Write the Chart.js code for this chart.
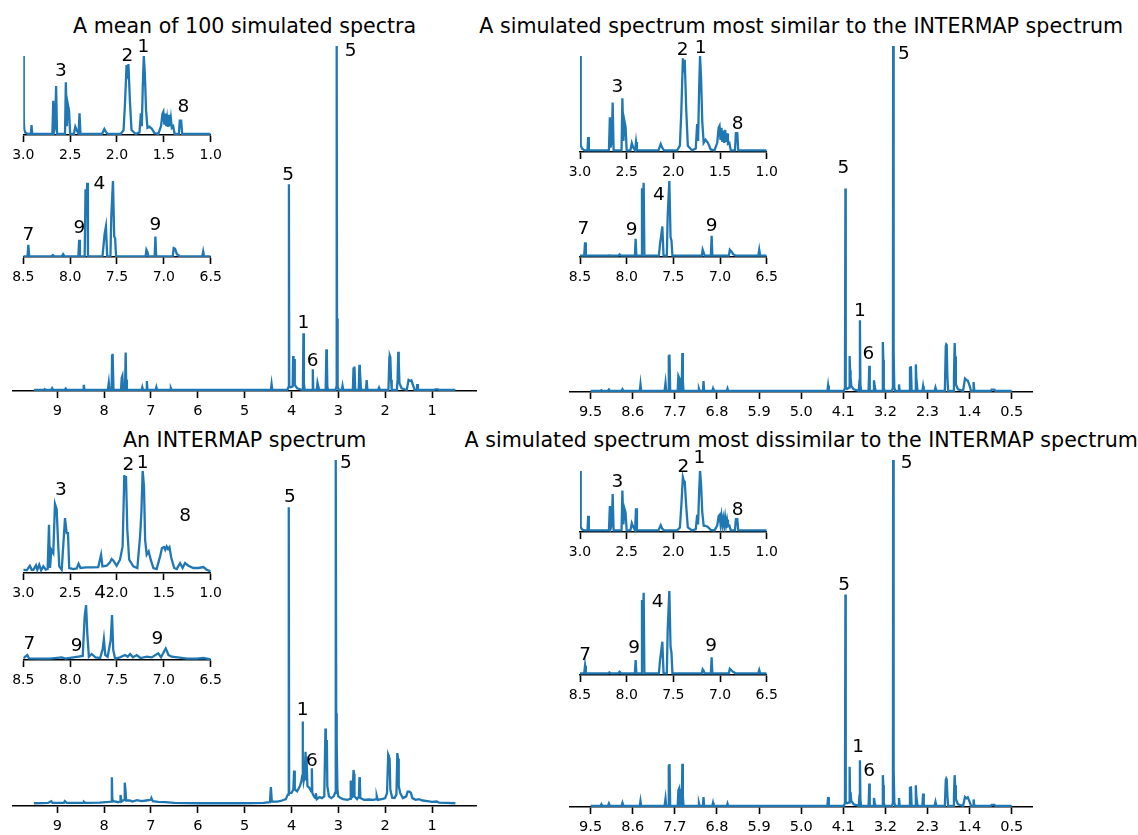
<!DOCTYPE html>
<html>
<head>
<meta charset="utf-8">
<script src="https://cdn.jsdelivr.net/npm/chart.js@4"></script>
<style>
  body { margin: 0; background: #fff; width: 1138px; height: 835px; position: relative; overflow: hidden; font-family: 'DejaVu Sans', sans-serif; }
  .title { position: absolute; font-size: 20.6px; line-height: 1; white-space: nowrap; transform: translateX(-50%); color: #000; }
  canvas { position: absolute; }
</style>
</head>
<body>
<script>
// ---- tick labels ----
const integerTicks = [9, 8, 7, 6, 5, 4, 3, 2, 1];
const ninthTicks = [9.5, 8.6, 7.7, 6.8, 5.9, 5.0, 4.1, 3.2, 2.3, 1.4, 0.5];
const aliphaticTicks = [3.0, 2.5, 2.0, 1.5, 1.0];
const aromaticTicks = [8.5, 8.0, 7.5, 7.0, 6.5];

const titles = [
  'A mean of 100 simulated spectra',
  'A simulated spectrum most similar to the INTERMAP spectrum',
  'An INTERMAP spectrum',
  'A simulated spectrum most dissimilar to the INTERMAP spectrum'
];

// ---- simulated spectra, full range (ppm, intensity relative to tallest peak) ----
const simMainPpm = [
  9.50, 9.29, 9.27, 9.25, 9.13, 9.11, 9.09, 8.84, 8.82, 8.80,
  8.45, 8.435, 8.42, 7.92, 7.90, 7.885, 7.84, 7.83, 7.822, 7.815,
  7.80, 7.64, 7.625, 7.61, 7.595, 7.555, 7.54, 7.53, 7.515, 7.20,
  7.185, 7.17, 7.10, 7.088, 7.075, 6.90, 6.885, 6.87, 6.59, 6.575,
  6.56, 4.44, 4.425, 4.41, 4.09, 4.065, 4.055, 4.048, 4.02, 3.975,
  3.965, 3.955, 3.945, 3.93, 3.88, 3.77, 3.755, 3.745, 3.735, 3.72,
  3.56, 3.545, 3.535, 3.46, 3.445, 3.43, 3.41, 3.27, 3.255, 3.245,
  3.235, 3.22, 3.06, 3.04, 3.035, 3.028, 3.02, 3.01, 2.99, 2.925,
  2.91, 2.895, 2.69, 2.675, 2.665, 2.655, 2.64, 2.565, 2.55, 2.54,
  2.53, 2.515, 2.41, 2.395, 2.38, 2.15, 2.13, 2.11, 1.93, 1.91,
  1.90, 1.89, 1.875, 1.86, 1.75, 1.735, 1.72, 1.71, 1.695, 1.65,
  1.54, 1.50, 1.47, 1.44, 1.40, 1.37, 1.325, 1.315, 1.30, 0.95,
  0.93, 0.87, 0.85, 0.50
];
const meanMainInt = [
  0, 0, 0.2, 0, 0, 0.5, 0, 0, 0.4, 0,
  0, 1.5, 0, 0, 2.1, 0, 0, 10.2, 8, 10.5,
  0, 0, 3.5, 4.1, 0, 0, 10.9, 3, 0, 0,
  0.8, 0, 0, 2.6, 0, 0, 0.8, 0, 0, 0.5,
  0, 0, 1.7, 0, 0, 0.8, 59.8, 1, 0.8, 1,
  9.9, 3, 9, 1.5, 0.5, 0, 3, 16.5, 2, 0,
  0, 6.0, 0, 0, 2.1, 1.2, 0, 0, 11.8, 10.7,
  1, 0, 0, 1, 100, 20.8, 11.6, 1, 0, 0,
  1.2, 0, 0, 6.5, 2, 6.8, 0, 0, 7.3, 3,
  3.5, 0, 0, 2.9, 0, 0, 0.7, 0, 0, 9.5,
  9.9, 9.5, 3, 0, 0, 3, 11.1, 8.2, 2, 0.5,
  0, 2.9, 2.6, 2.8, 1.2, 0, 0, 1.7, 0, 0,
  0.2, 0.2, 0, 0
];
const similarMainInt = [
  0, 0, 0.2, 0, 0, 0.4, 0, 0, 0.5, 0,
  0, 1.9, 0, 0, 2.3, 0, 0, 10.3, 9, 10.6,
  0, 0, 4.3, 3.8, 0, 0, 11.0, 3, 0, 0,
  0.6, 0, 0, 2.9, 0, 0, 0.7, 0, 0, 0.7,
  0, 0, 1.6, 0, 0, 0.8, 58.7, 1, 0.6, 1,
  10.1, 6, 4, 1.5, 0.5, 0, 3, 20.5, 2, 0,
  0, 7.3, 0, 0, 3.1, 1.5, 0, 0, 14.2, 9,
  1, 0, 0, 1, 100, 23.9, 10.8, 1, 0, 0,
  1.9, 0, 0, 7.0, 2, 7.2, 0, 0, 7.7, 4,
  4, 0, 0, 1.4, 0, 0, 1.0, 0, 0, 13,
  13.5, 13.3, 4, 0, 0, 4, 13.9, 10, 2, 0.5,
  0, 3.6, 3.2, 3.0, 1.5, 0, 0, 2.6, 0, 0,
  0.4, 0.4, 0, 0
];
const dissimilarMainInt = [
  0, 0, 0.5, 0, 0, 0.7, 0, 0, 0.9, 0,
  0, 1.4, 0, 0, 2.1, 0, 0, 11.8, 10, 12.1,
  0, 0, 4.5, 5.0, 0, 0, 12.2, 3, 0, 0,
  0.8, 0, 0, 2.6, 0, 0, 0.9, 0, 0, 0.7,
  0, 0, 2.6, 0, 0, 0.8, 61.1, 1, 0.8, 1,
  11.3, 3, 4, 1.5, 0.5, 0, 3, 13.2, 2, 0,
  0, 6.5, 0, 0, 2.3, 1, 0, 0, 8.9, 6,
  1, 0, 0, 1, 100, 17.3, 10.8, 1, 0, 0,
  2.3, 0, 0, 5.5, 2, 5.7, 0, 0, 6.0, 3,
  3, 0, 0, 3.6, 0, 0, 1.2, 0, 0, 7.5,
  7.9, 7.6, 3, 0, 0, 3, 8.9, 6, 2, 0.5,
  0, 2.6, 2.2, 2.5, 1.2, 0, 0, 1.9, 0, 0,
  0.3, 0.3, 0, 0
];

// ---- simulated spectra, 3.0-1.0 ppm inset ----
const simAliPpm = [
  3.00, 2.995, 2.99, 2.98, 2.95, 2.92, 2.912, 2.905, 2.69, 2.68,
  2.672, 2.66, 2.65, 2.64, 2.555, 2.546, 2.535, 2.525, 2.512, 2.50,
  2.46, 2.445, 2.43, 2.41, 2.40, 2.39, 2.16, 2.135, 2.12, 2.10,
  1.96, 1.93, 1.915, 1.898, 1.888, 1.878, 1.862, 1.845, 1.80, 1.76,
  1.745, 1.735, 1.725, 1.714, 1.703, 1.69, 1.675, 1.655, 1.63, 1.60,
  1.56, 1.53, 1.515, 1.505, 1.495, 1.485, 1.475, 1.465, 1.455, 1.445,
  1.435, 1.425, 1.415, 1.40, 1.385, 1.34, 1.33, 1.315, 1.305, 1.00
];
const meanAliInt = [
  100, 20, 6, 2, 0, 0, 11.5, 0, 0, 42.7,
  3, 10, 61.5, 0, 0, 66.2, 10, 38.5, 30, 0,
  0, 9.4, 5, 0, 26.5, 0, 0, 6.4, 3, 0,
  0, 5, 38.5, 88.5, 80, 89.7, 41.5, 5, 0, 2,
  26.5, 10, 60.7, 100, 77.8, 30.8, 8, 9.4, 7, 1,
  0, 10, 26, 28.6, 12, 26, 10, 20, 9, 24.4,
  10, 20, 8, 10, 0, 0, 17.1, 17.1, 0, 0
];
const similarAliInt = [
  100, 20, 6, 2, 0, 0, 14.1, 0, 0, 35.2,
  3, 10, 50.7, 0, 0, 55.3, 10, 31.7, 25, 0,
  0, 7.7, 3, 0, 8.8, 0, 0, 6.7, 3, 0,
  0, 5, 40, 97.5, 90, 96, 43, 5, 0, 2,
  28, 10, 60, 100, 76.4, 30, 8, 11.3, 8, 1,
  0, 8, 24, 26, 11, 24, 9, 21, 8, 21.8,
  9, 18, 7, 8, 0, 0, 18.3, 18.3, 0, 0
];
const dissimilarAliInt = [
  100, 20, 6, 2, 0, 0, 24.4, 0, 0, 41,
  3, 10, 61, 0, 0, 66.7, 10, 37.2, 30, 0,
  0, 12.2, 6, 0, 37.2, 0, 0, 8.9, 3, 0,
  0, 5, 40, 88.9, 83, 81.7, 40, 5, 0, 2,
  26, 10, 60, 100, 76, 30, 8, 7.8, 6, 1,
  0, 8, 24, 26, 11, 24, 9, 20, 8, 22,
  9, 18, 7, 8, 0, 0, 18.9, 18.9, 0, 0
];

// ---- simulated spectra, 8.5-6.5 ppm inset ----
const simAroPpm = [
  8.50, 8.455, 8.446, 8.437, 8.20, 8.185, 8.17, 8.09, 8.075, 8.06,
  7.912, 7.904, 7.896, 7.845, 7.836, 7.827, 7.818, 7.81, 7.655, 7.643,
  7.632, 7.618, 7.605, 7.57, 7.561, 7.543, 7.53, 7.52, 7.51, 7.195,
  7.186, 7.175, 7.165, 7.098, 7.09, 7.082, 6.905, 6.895, 6.88, 6.86,
  6.845, 6.835, 6.59, 6.58, 6.57, 6.50
];
const meanAroInt = [
  0, 0, 15.4, 0, 0, 1.8, 0, 0, 3, 0,
  0, 21.9, 0, 0, 88.6, 60, 97.4, 0, 0, 15.4,
  30, 39.5, 0, 0, 52.6, 100, 26.3, 24, 0, 0,
  8.8, 6, 0, 0, 26.3, 0, 0, 11, 10, 2.6,
  2, 0, 0, 6.6, 0, 0
];
const similarAroInt = [
  0, 0, 17.7, 0, 0, 0.5, 0, 0, 1.8, 0,
  0, 22.6, 0, 0, 89.8, 60, 97.3, 0, 0, 15.5,
  25, 39, 0, 0, 52.2, 100, 24.8, 20, 0, 0,
  8, 4, 0, 0, 26.5, 0, 0, 8, 6, 2,
  1, 0, 0, 8, 0, 0
];
const dissimilarAroInt = [
  0, 0, 9.3, 0, 0, 1.2, 0, 0, 2, 0,
  0, 16.1, 0, 0, 88.7, 60, 97.6, 0, 0, 15.3,
  25, 38.3, 0, 0, 51.2, 100, 32, 25, 0, 0,
  4.8, 3, 0, 0, 19.4, 0, 0, 5.6, 4, 1.5,
  1, 0, 0, 4, 0, 0
];

// ---- INTERMAP spectrum ----
const intermapMainPpm = [
  9.50, 9.20, 9.13, 9.10, 8.86, 8.84, 8.80, 8.45, 8.43, 8.40,
  8.10, 7.90, 7.85, 7.835, 7.825, 7.80, 7.70, 7.66, 7.65, 7.63,
  7.57, 7.56, 7.545, 7.53, 7.45, 7.40, 7.30, 7.20, 7.10, 7.00,
  6.99, 6.96, 6.85, 6.70, 6.50, 6.00, 5.00, 4.60, 4.46, 4.44,
  4.42, 4.30, 4.20, 4.12, 4.08, 4.065, 4.058, 4.05, 4.00, 3.96,
  3.945, 3.93, 3.88, 3.82, 3.79, 3.77, 3.762, 3.755, 3.74, 3.72,
  3.70, 3.69, 3.68, 3.66, 3.62, 3.58, 3.565, 3.555, 3.52, 3.49,
  3.48, 3.46, 3.40, 3.35, 3.30, 3.275, 3.265, 3.245, 3.235, 3.20,
  3.15, 3.10, 3.07, 3.055, 3.045, 3.035, 3.02, 3.00, 2.95, 2.90,
  2.80, 2.75, 2.735, 2.725, 2.70, 2.675, 2.665, 2.655, 2.60, 2.56,
  2.55, 2.54, 2.53, 2.45, 2.35, 2.25, 2.19, 2.18, 2.16, 2.05,
  2.00, 1.96, 1.935, 1.92, 1.905, 1.89, 1.85, 1.80, 1.76, 1.74,
  1.725, 1.71, 1.68, 1.62, 1.55, 1.52, 1.48, 1.45, 1.42, 1.35,
  1.28, 1.20, 1.10, 1.00, 0.90, 0.85, 0.70, 0.50
];
const intermapMainInt = [
  0, 0.1, 0.6, 0.1, 0.1, 0.6, 0.1, 0.1, 0.4, 0.1,
  0.2, 0.4, 0.5, 7.6, 1, 0.6, 0.3, 0.5, 2.4, 0.5,
  1, 6.0, 4, 0.8, 0.8, 0.5, 0.9, 0.6, 0.8, 1.0,
  1.5, 0.6, 0.4, 0.3, 0.1, 0, 0, 0.1, 0.3, 4.7,
  0.5, 0.5, 0.8, 1.2, 2.5, 2.5, 86.2, 3, 3, 4,
  9.5, 4, 3.5, 5, 6.5, 8, 23.8, 10, 6.5, 8,
  15, 7, 13.6, 5, 4.5, 3.5, 10.2, 3, 2, 1.5,
  2.9, 1.2, 1.8, 1.5, 2, 21.8, 10, 18.4, 5, 2,
  1.5, 2, 3, 100, 26.2, 18, 4, 2, 1.5, 1.2,
  1, 1.3, 6.6, 1.5, 1.8, 9.7, 8.5, 2, 1.2, 2,
  7.6, 6, 1.5, 1, 1.1, 1, 1.2, 2.1, 1, 1.3,
  1.5, 3, 14.1, 13.5, 13, 4, 1.6, 1.5, 2.5, 14.6,
  13, 5, 3, 1.5, 2, 3.4, 3.4, 3, 1.5, 1,
  1.2, 0.8, 0.6, 0.4, 0.5, 0.2, 0.1, 0
];
const intermapAliPpm = [
  3.00, 2.964, 2.93, 2.91, 2.893, 2.865, 2.85, 2.83, 2.81, 2.786,
  2.76, 2.74, 2.726, 2.715, 2.70, 2.68, 2.662, 2.644, 2.63, 2.616,
  2.59, 2.555, 2.537, 2.523, 2.51, 2.466, 2.43, 2.41, 2.39, 2.33,
  2.253, 2.20, 2.17, 2.155, 2.11, 2.075, 2.057, 2.04, 2.004, 1.968,
  1.94, 1.922, 1.913, 1.904, 1.89, 1.87, 1.826, 1.783, 1.754, 1.74,
  1.726, 1.712, 1.70, 1.683, 1.662, 1.64, 1.612, 1.577, 1.54, 1.52,
  1.498, 1.485, 1.47, 1.455, 1.44, 1.42, 1.39, 1.363, 1.327, 1.30,
  1.274, 1.238, 1.185, 1.13, 1.078, 1.043, 1.00
];
const intermapAliInt = [
  3.2, 2.6, 7.1, 3.2, 3.2, 7.5, 3.2, 8.1, 2.6, 6.5,
  3.2, 3.9, 47.1, 4.9, 22.7, 19.5, 67.5, 62.3, 32.5, 6.5,
  3.2, 53.6, 39, 39, 4.9, 3.9, 4.5, 9.1, 4.9, 5.5,
  5.5, 5.8, 17.9, 6.5, 7.1, 10.4, 13.6, 12.3, 7.1, 13,
  26, 95.8, 87.7, 94.8, 42.2, 13, 6.5, 4.9, 35.7, 58.4,
  100, 84.4, 32.5, 17.9, 21.1, 13, 4.9, 3.9, 16.2, 24.4,
  25.3, 22.7, 26, 23.4, 25.3, 14.6, 4.9, 3.9, 9.7, 4.9,
  9.7, 7.1, 4.9, 4.9, 5.8, 3.2, 1.6
];
const intermapAroPpm = [
  8.50, 8.457, 8.44, 8.32, 8.215, 8.09, 8.05, 7.913, 7.866, 7.845,
  7.83, 7.817, 7.80, 7.77, 7.73, 7.68, 7.653, 7.64, 7.625, 7.60,
  7.567, 7.553, 7.54, 7.52, 7.468, 7.415, 7.386, 7.36, 7.33, 7.29,
  7.25, 7.18, 7.13, 7.06, 7.03, 6.98, 6.95, 6.916, 6.83, 6.756,
  6.65, 6.578, 6.50
];
const intermapAroInt = [
  3, 9, 3, 2.4, 2.4, 4.8, 2.4, 6, 7.3, 78.8,
  100, 48.5, 6, 10.9, 4.8, 3.6, 19.4, 37.6, 9, 6,
  36.4, 81.8, 18.2, 2.4, 4.8, 9, 6, 10.9, 4.8, 9,
  3.6, 6, 4.8, 12.1, 4.8, 21.2, 9, 6, 4.2, 2.4,
  2.4, 3.6, 1.2
];

// ---- peak labels: [text, ppm, height] ----
const meanMainLabels = [['5', 2.735, 98.4], ['5', 4.07, 62.5], ['1', 3.747, 19.4], ['6', 3.55, 8.5]];
const meanAliLabels = [['3', 2.598, 79.9], ['2', 1.89, 100], ['1', 1.719, 111], ['8', 1.292, 33.8]];
const meanAroLabels = [['7', 8.447, 28.5], ['9', 7.902, 37.3], ['4', 7.689, 95.2], ['9', 7.091, 40.8]];
const similarMainLabels = [['5', 2.807, 97.7], ['5', 4.098, 64.7], ['1', 3.744, 23.1], ['6', 3.563, 10.8]];
const similarAliLabels = [['3', 2.6, 66.9], ['2', 1.9, 106.3], ['1', 1.707, 108], ['8', 1.311, 28.2]];
const similarAroLabels = [['7', 8.464, 35.8], ['9', 7.946, 34.5], ['4', 7.654, 81], ['9', 7.089, 39.8]];
const intermapMainLabels = [['5', 2.836, 99.2], ['5', 4.032, 89.3], ['1', 3.762, 27.2], ['6', 3.562, 12.4]];
const intermapAliLabels = [['3', 2.598, 81.2], ['2', 1.879, 105.5], ['1', 1.726, 107], ['8', 1.274, 55.2]];
const intermapAroLabels = [['7', 8.436, 29], ['9', 7.93, 25.5], ['4', 7.681, 121], ['9', 7.069, 37.6]];
const dissimilarMainLabels = [['5', 2.744, 99.2], ['5', 4.083, 63.8], ['1', 3.783, 17.1], ['6', 3.547, 10.1]];
const dissimilarAliLabels = [['3', 2.6, 80], ['2', 1.893, 106.7], ['1', 1.721, 120.6], ['8', 1.311, 33.3]];
const dissimilarAroLabels = [['7', 8.446, 22.2], ['9', 7.921, 30.2], ['4', 7.668, 86.7], ['9', 7.096, 32.3]];

Chart.defaults.font.family = 'DejaVu Sans';

// titles
const titlePos = [[244.6, 15.5], [801.2, 15.5], [244.6, 429.5], [801.2, 429.5]];
titles.forEach((t, i) => {
  const d = document.createElement('div');
  d.className = 'title';
  d.textContent = t;
  d.style.left = titlePos[i][0] + 'px';
  d.style.top = titlePos[i][1] + 'px';
  document.body.appendChild(d);
});

function labelPlugin(items, size) {
  return {
    id: 'peakLabels',
    afterDatasetsDraw(chart) {
      const { ctx, scales } = chart;
      ctx.save();
      ctx.font = size + 'px "DejaVu Sans"';
      ctx.fillStyle = '#000';
      ctx.textAlign = 'center';
      ctx.textBaseline = 'middle';
      items.forEach(([t, x, y]) => {
        ctx.fillText(t, scales.x.getPixelForValue(x), scales.y.getPixelForValue(y));
      });
      ctx.restore();
    }
  };
}

// one axes box per plot: page pixels for left/right edge, top (=100) and spine
function addPlot(p) {
  const padL = 30, padR = 30, padT = 40, axisH = 34;
  const left = Math.round(p.x0) - padL;
  const top = Math.round(p.top) - padT;
  const width = Math.round(p.x1) + padR - left;
  const height = Math.round(p.spine) + axisH - top;
  const canvas = document.createElement('canvas');
  canvas.width = width;
  canvas.height = height;
  canvas.style.left = left + 'px';
  canvas.style.top = top + 'px';
  canvas.style.width = width + 'px';
  canvas.style.height = height + 'px';
  document.body.appendChild(canvas);

  const points = p.ppm.map((x, i) => ({ x: x, y: p.val[i] }));
  new Chart(canvas, {
    type: 'line',
    data: { datasets: [{ data: points, borderColor: '#1f77b4', borderWidth: 2.3, pointRadius: 0, tension: 0, fill: false }] },
    options: {
      responsive: false,
      animation: false,
      events: [],
      layout: { padding: { left: p.x0 - left, right: left + width - p.x1, top: p.top - top, bottom: 0 } },
      plugins: { legend: { display: false }, tooltip: { enabled: false } },
      scales: {
        x: {
          type: 'linear',
          reverse: true,
          min: p.xr[0],
          max: p.xr[1],
          afterBuildTicks: axis => { axis.ticks = p.ticks.map(v => ({ value: v })); },
          afterFit: s => { s.height = axisH; },
          ticks: {
            callback: v => v.toFixed(p.dec),
            font: { size: p.font },
            color: '#000',
            padding: 5,
            maxRotation: 0,
            autoSkip: false
          },
          grid: { display: true, drawOnChartArea: false, drawTicks: true, tickLength: 7, tickWidth: 1.6, tickColor: '#000' },
          border: { display: true, color: '#000', width: 1.6 }
        },
        y: { display: false, min: p.ymin, max: 100 }
      }
    },
    plugins: [labelPlugin(p.labels, 18.5)]
  });
}

const fullRange = [0.05, 9.95];
const plots = [
  // top left: mean of 100 simulated spectra
  { x0: 12.8, x1: 476.5, top: 46, spine: 391, ymin: -0.3, xr: fullRange, ticks: integerTicks, dec: 0, font: 14.5, ppm: simMainPpm, val: meanMainInt, labels: meanMainLabels },
  { x0: 23.3, x1: 210.7, top: 56, spine: 135, ymin: -1.3, xr: [1, 3], ticks: aliphaticTicks, dec: 1, font: 14, ppm: simAliPpm, val: meanAliInt, labels: meanAliLabels },
  { x0: 23.3, x1: 210.7, top: 180.7, spine: 257.3, ymin: -0.8, xr: [6.5, 8.5], ticks: aromaticTicks, dec: 1, font: 14, ppm: simAroPpm, val: meanAroInt, labels: meanAroLabels },
  // top right: most similar
  { x0: 569.6, x1: 1032.8, top: 46, spine: 391.7, ymin: -0.3, xr: fullRange, ticks: ninthTicks, dec: 1, font: 14.5, ppm: simMainPpm, val: similarMainInt, labels: similarMainLabels },
  { x0: 580, x1: 766.7, top: 56, spine: 152.3, ymin: -1.7, xr: [1, 3], ticks: aliphaticTicks, dec: 1, font: 14, ppm: simAliPpm, val: similarAliInt, labels: similarAliLabels },
  { x0: 580, x1: 766.7, top: 180.7, spine: 257.3, ymin: -1.7, xr: [6.5, 8.5], ticks: aromaticTicks, dec: 1, font: 14, ppm: simAroPpm, val: similarAroInt, labels: similarAroLabels },
  // bottom left: INTERMAP
  { x0: 12.8, x1: 476.5, top: 460, spine: 806, ymin: -0.8, xr: fullRange, ticks: integerTicks, dec: 0, font: 14.5, ppm: intermapMainPpm, val: intermapMainInt, labels: intermapMainLabels },
  { x0: 23.3, x1: 210.7, top: 470.7, spine: 573.3, ymin: 0, xr: [1, 3], ticks: aliphaticTicks, dec: 1, font: 14, ppm: intermapAliPpm, val: intermapAliInt, labels: intermapAliLabels },
  { x0: 23.3, x1: 210.7, top: 605, spine: 660, ymin: 0, xr: [6.5, 8.5], ticks: aromaticTicks, dec: 1, font: 14, ppm: intermapAroPpm, val: intermapAroInt, labels: intermapAroLabels },
  // bottom right: most dissimilar
  { x0: 569.6, x1: 1032.8, top: 460, spine: 806.7, ymin: -0.3, xr: fullRange, ticks: ninthTicks, dec: 1, font: 14.5, ppm: simMainPpm, val: dissimilarMainInt, labels: dissimilarMainLabels },
  { x0: 580, x1: 766.7, top: 470.7, spine: 532.3, ymin: -2.6, xr: [1, 3], ticks: aliphaticTicks, dec: 1, font: 14, ppm: simAliPpm, val: dissimilarAliInt, labels: dissimilarAliLabels },
  { x0: 580, x1: 766.7, top: 590.7, spine: 675, ymin: -2, xr: [6.5, 8.5], ticks: aromaticTicks, dec: 1, font: 14, ppm: simAroPpm, val: dissimilarAroInt, labels: dissimilarAroLabels }
];

plots.forEach(addPlot);
</script>
</body>
</html>
